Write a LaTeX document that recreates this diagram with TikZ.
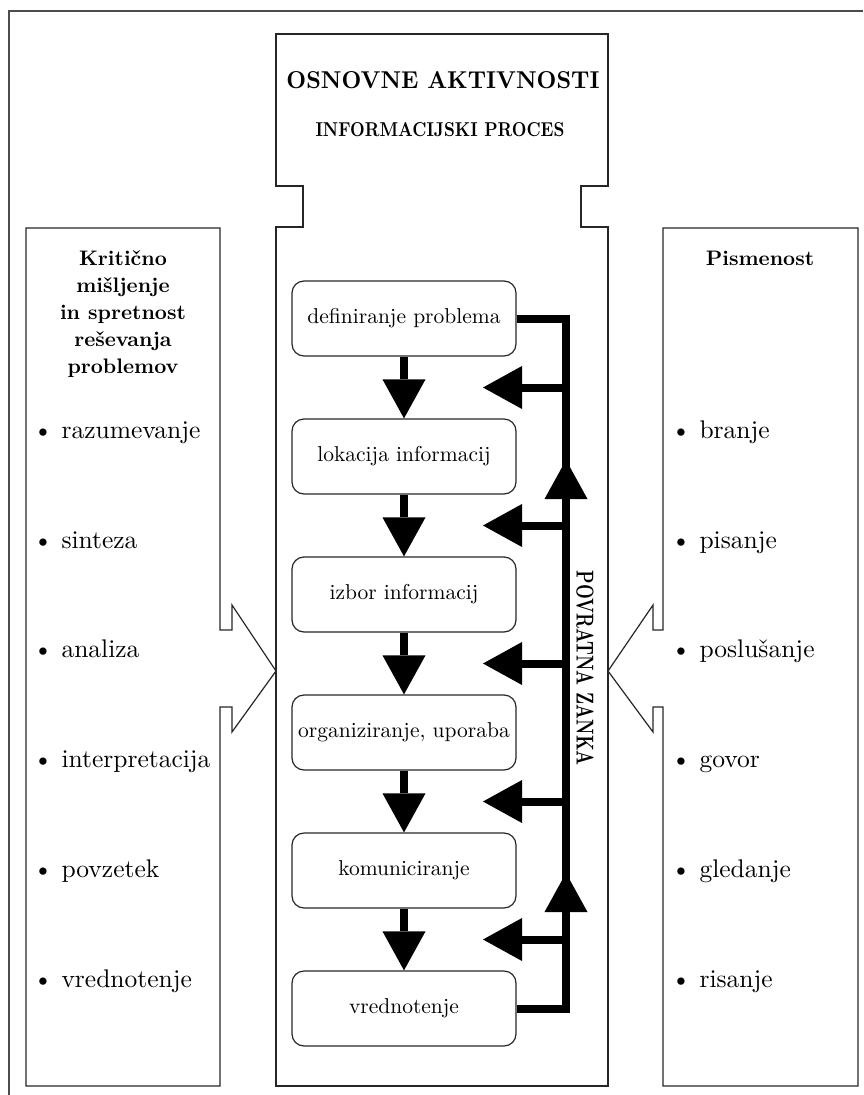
\documentclass[tikz,border=0pt]{standalone}
\usepackage{fontspec}
\setmainfont{lmroman10}[Extension=.otf, UprightFont=*-regular, BoldFont=*-bold,
  ItalicFont=*-italic, BoldItalicFont=*-bolditalic]
\usepackage{graphicx}
\usetikzlibrary{arrows.meta}
\begin{document}
\begin{tikzpicture}[x=1pt,y=-1pt,
  frame/.style={draw=black!85, line width=1.2pt},
  stepbox/.style={draw=black!85, line width=1.2pt, rounded corners=12pt,
    minimum width=224pt, minimum height=75pt, inner sep=0pt,
    font=\fontsize{21.5}{26}\selectfont},
  flow/.style={line width=8pt, -{Triangle[width=43pt,length=39pt,line width=0pt]}},
  loopline/.style={line width=8pt, line join=miter},
  item/.style={anchor=base west, inner sep=0pt, font=\fontsize{25.5}{30}\selectfont},
  head/.style={inner sep=0pt, align=center, font=\bfseries\fontsize{21}{27}\selectfont}]
\useasboundingbox (0,0) rectangle (863,1095);
% outer frame
\draw[frame, draw=black!70] (9,1095) -- (9,11) -- (863,11);
% central shape
\draw[frame] (276,34) -- (608,34) -- (608,186) -- (581,186) -- (581,227) -- (608,227)
  -- (608,1086) -- (276,1086) -- (276,227) -- (303,227) -- (303,186) -- (276,186) -- cycle;
% left box with arrow
\draw[frame] (26,228) -- (220,228) -- (220,630) -- (232,630) -- (232,605) -- (276,671)
  -- (232,732) -- (232,707) -- (220,707) -- (220,1086) -- (26,1086) -- cycle;
% right box with arrow
\draw[frame] (663,228) -- (858,228) -- (858,1086) -- (663,1086) -- (663,707) -- (653,707)
  -- (653,732) -- (608,671) -- (653,605) -- (653,630) -- (663,630) -- cycle;
% titles
\node[inner sep=0pt] (title) at (443,80) {\resizebox{313pt}{17pt}{\bfseries OSNOVNE AKTIVNOSTI}};
\node[inner sep=0pt] (sub) at (440,130) {\resizebox{249pt}{14pt}{\bfseries INFORMACIJSKI PROCES}};
% headers
\node[head] (lh) at (123,314) {Kritično\\mišljenje\\in spretnost\\reševanja\\problemov};
\node[head] (rh) at (760,258) {Pismenost};
% items left
\node[item] (l1) at (33,438) {\textbullet\ razumevanje};
\node[item] (l2) at (33,548) {\textbullet\ sinteza};
\node[item] (l3) at (33,657) {\textbullet\ analiza};
\node[item] (l4) at (33,767) {\textbullet\ interpretacija};
\node[item] (l5) at (33,877) {\textbullet\ povzetek};
\node[item] (l6) at (33,987) {\textbullet\ vrednotenje};
% items right
\node[item] (r1) at (671,438) {\textbullet\ branje};
\node[item] (r2) at (671,548) {\textbullet\ pisanje};
\node[item] (r3) at (671,657) {\textbullet\ poslušanje};
\node[item] (r4) at (671,767) {\textbullet\ govor};
\node[item] (r5) at (671,877) {\textbullet\ gledanje};
\node[item] (r6) at (671,987) {\textbullet\ risanje};
% process boxes
\node[stepbox] (b1) at (404,318.5) {definiranje problema};
\node[stepbox] (b2) at (404,456.5) {lokacija informacij};
\node[stepbox] (b3) at (404,594.5) {izbor informacij};
\node[stepbox] (b4) at (404,732.5) {organiziranje, uporaba};
\node[stepbox] (b5) at (404,870.5) {komuniciranje};
\node[stepbox] (b6) at (404,1008.5) {vrednotenje};
% down arrows
\draw[flow] (b1) -- (b2);
\draw[flow] (b2) -- (b3);
\draw[flow] (b3) -- (b4);
\draw[flow] (b4) -- (b5);
\draw[flow] (b5) -- (b6);
% feedback loop
\coordinate (L1) at (566,318.5);
\coordinate (L2) at (566,1008.5);
\draw[loopline] (b1.east) -- (L1) -- (L2) -- (b6.east);
\foreach \y/\n in {387.5/1,525.5/2,663.5/3,801.5/4,939.5/5}{
  \coordinate (F\n) at (566,\y);
  \coordinate (T\n) at (483,\y);
  \draw[flow] (F\n) -- (T\n);
}
\coordinate (U1s) at (566,510);
\coordinate (U1) at (566,460);
\coordinate (U2s) at (566,923);
\coordinate (U2) at (566,873);
\draw[flow] (U1s) -- (U1);
\draw[flow] (U2s) -- (U2);
\node[inner sep=0pt, rotate=-90] (pz) at (585,668) {\resizebox{195pt}{17pt}{\bfseries POVRATNA ZANKA}};
\end{tikzpicture}
\end{document}
